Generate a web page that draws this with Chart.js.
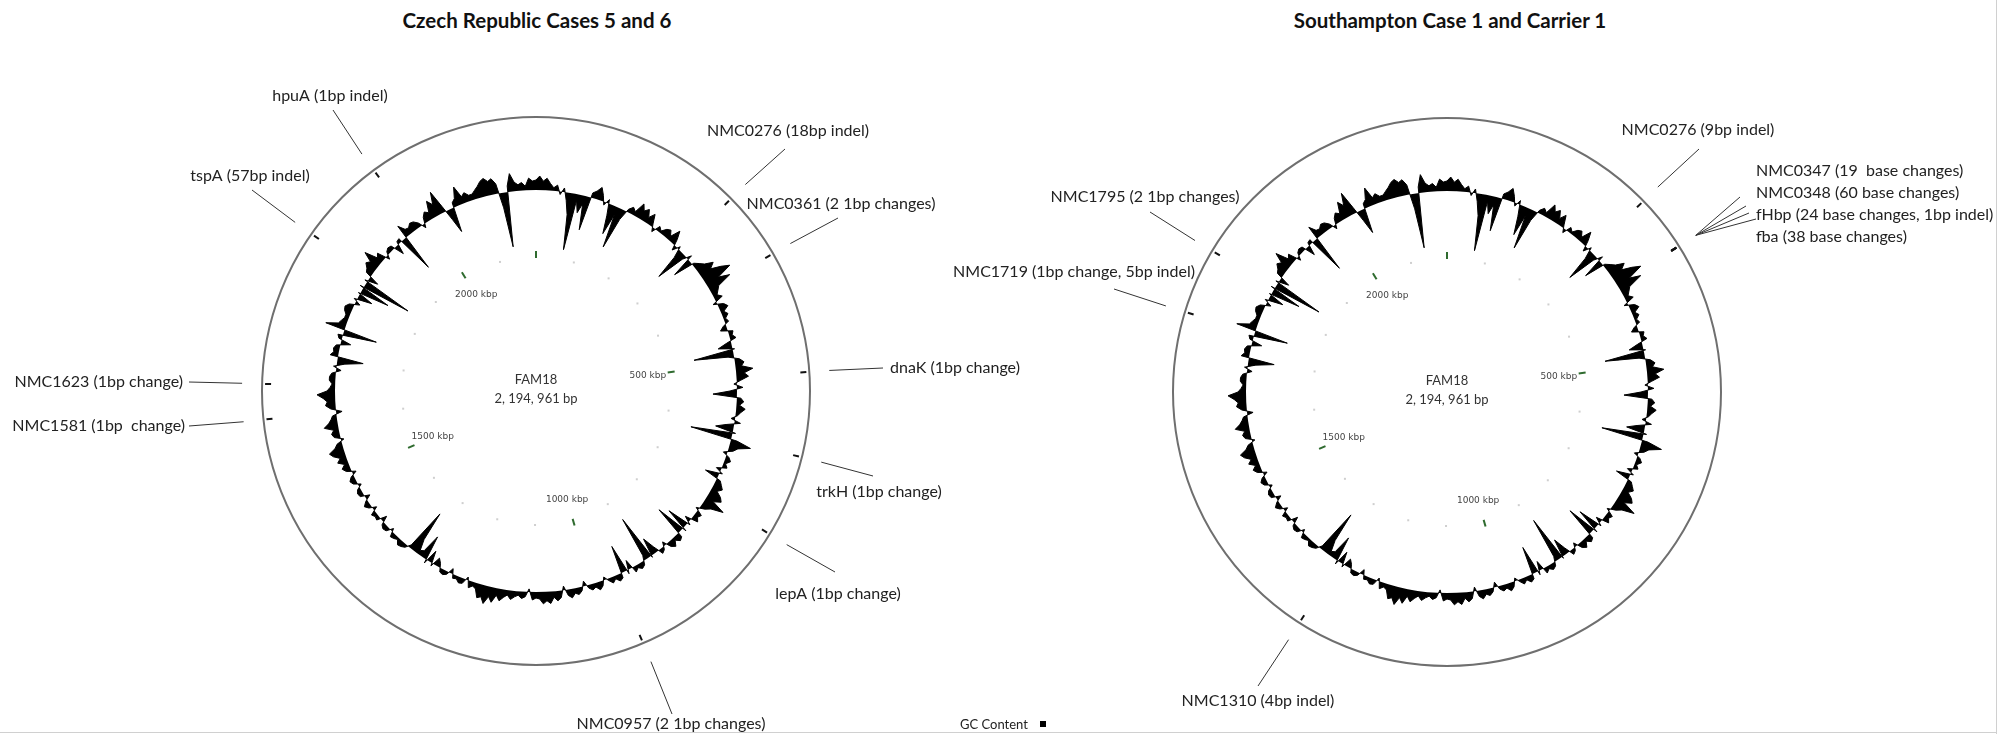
<!DOCTYPE html>
<html>
<head>
<meta charset="utf-8">
<title>FAM18 genome comparison</title>
<script src="https://cdn.jsdelivr.net/npm/chart.js@4.4.1/dist/chart.umd.min.js"></script>
<style>
  html, body { margin: 0; padding: 0; background: #fff; }
  body { width: 2015px; height: 734px; position: relative; overflow: hidden; font-family: Lato, "Open Sans", sans-serif; }
  canvas { position: absolute; left: 0; top: 0; }
  .title { position: absolute; top: 8px; font-weight: bold; font-size: 20.5px; color: #111; transform: translateX(-50%); white-space: nowrap; }
  .legend { position: absolute; left: 960px; top: 716px; font-size: 13px; color: #222; white-space: nowrap; }
  .legend span { display: inline-block; width: 6px; height: 6px; background: #000; margin-left: 12px; vertical-align: 2px; }
  .rule-h { position: absolute; left: 0; top: 732px; width: 1996px; height: 1px; background: #d0d0d0; }
  .rule-v { position: absolute; left: 1996px; top: 0; width: 1px; height: 734px; background: #d0d0d0; }
</style>
</head>
<body>
<div class="title" style="left:537px">Czech Republic Cases 5 and 6</div>
<div class="title" style="left:1450px">Southampton Case 1 and Carrier 1</div>
<canvas id="czechChart" width="2015" height="734"></canvas>
<canvas id="sotonChart" width="2015" height="734"></canvas>
<div class="legend">GC Content<span></span></div>
<div class="rule-h"></div>
<div class="rule-v"></div>

<script>
// FAM18 reference genome, 2 194 961 bp, GC content in 360 windows (clockwise from 0)
const genomeKbp = 2194.961;

// deviation from mean GC per window (+ drawn outward, - inward)
const gcDeviation = [
   10,  14,   9,  12,   7,   3,   6,  -3,   4,  -8,
  -22, -57,  -6, -18,  -8, -34,   5,   8,  13,   6,
   -3,   4, -12, -30,  -8, -42, -10,   3,   7,   4,
   15,   9,  13,   6,  12,   3,  -4,   5,   2,   7,
    9,   4,  14,   6,  -5,   3,  -9, -33,  -4,   5,
  -20,   2,   6,  10,  18,  12,  22,  30,  14,  25,
   10,   7,   4,   8,  -4,   6,   9,   3,   6,   2,
    4,  -3,  -7,   5,   3,   6,  -5, -14,   2, -40,
   -6,   5,   9,   6,  17,   8,  12,   4,  -3,   6,
   -7, -24,   4,   7,   3,   9,   5,   2,  -4,   6,
   -8, -18,   3, -42,   6,  21,   9,   5,  -4,   3,
    6,   2,   5,  -5,   3, -14,   4,   7,  10,   6,
   12,  15,   8,  22,  10,   5,  -3,   6,   4,   7,
   -6,   3, -22,   4, -30,   5,   7,   3,   8,   5,
   -4,   3,   5,  -6, -18,   2, -46,  -5,   4,   6,
    3,   6,  -9,   4, -28,   5,   7,   3,   6,   2,
   -3,   5,   8,   4,   6,   3,  -5,   4,   7,   5,
    9,   6,  -4,   7,  10,   6,  12,   9,  12,   7,
    6,   8,  -3,   5,   7,   4,   6,   9,   5,   8,
   12,   7,  15,  10,  18,  12,  14,   6,   4,   7,
   -3,   5,   6,   3,   4,  -5,   3,   5,   4,  -4,
   -8,   3, -12,   4, -25,  -6,  -4, -15, -45,  -3,
    3,   5,   6,   2,   4,   5,  -3,   4,   5,   3,
   -6,   4,   3,   5,  -4,   3,   6,   2,  -5,   4,
    5,   3,  -3,   4,   6,   3,  -4,   5,   8,   4,
   10,   6,  12,  15,   8,   5,  -3,   6,   8,   5,
   14,   9,   6,   4,  -6,   5,  10,   8,  12,  18,
    8,   5,   3,   6,   6,   4,  -5,   3,  -8, -26,
    8,   5,   6,   4, -10,   3,   5, -34,  20,   8,
    6,   4,   4,   7,   8,   5,  -5,   3, -15,   2,
  -30,   4, -50,   3, -10,   6,   8,  12,   9,  19,
    6,   9,  -4,   3,   5,   4, -10,   3,   4, -37,
   14,   7,   6,   9,   8,   4,  -4,   6,  10,   7,
   18,  12,  24,   6, -10, -25,   5,   8,  19,   7,
   10,   6,   6,   9,  12,  16,  18,  14,  16,  10,
  -15, -55,   6,  18,   9,   6,   8,   4,  12,   9
];
const windowLabels = gcDeviation.map((_, i) => Math.round(i * genomeKbp / gcDeviation.length) + ' kbp');

// ruler on the inner circle
const majorTickKbp = [0, 500, 1000, 1500, 2000];
const majorTickLabels = ['', '500 kbp', '1000 kbp', '1500 kbp', '2000 kbp'];
const minorTickKbp = [100, 200, 300, 400, 600, 700, 800, 900, 1100, 1200, 1300, 1400, 1600, 1700, 1800, 1900, 2100];

// Czech Republic cases 5 and 6
const czechGenes = ['hpuA (1bp indel)', 'tspA (57bp indel)', 'NMC0276 (18bp indel)', 'NMC0361 (2 1bp changes)',
  'dnaK (1bp change)', 'trkH (1bp change)', 'lepA (1bp change)', 'NMC0957 (2 1bp changes)',
  'NMC1623 (1bp change)', 'NMC1581 (1bp  change)'];
const czechKbp = [1973.6, 1859.6, 276.8, 365.2, 524.3, 634.1, 740.8, 957.2, 1655.4, 1609.6];

// Southampton case 1 and carrier 1
const sotonGenes = ['NMC0276 (9bp indel)', 'NMC0347 (19  base changes)', 'NMC0348 (60 base changes)',
  'fHbp (24 base changes, 1bp indel)', 'fba (38 base changes)', 'NMC1795 (2 1bp changes)',
  'NMC1719 (1bp change, 5bp indel)', 'NMC1310 (4bp indel)'];
const sotonKbp = [279.3, 352.4, 352.4, 352.4, 352.4, 1835.3, 1750.0, 1296.3];

// ---- layout (pixels) ----
const RING_MAX = 274;      // outer circle radius
const GC_BASE = 201;       // GC plot baseline radius
const LEADER_START = 294;

// label placement: line end and text anchor relative to the circle centre
const czechLayout = [
  { end: [-203, -281], text: [-206, -295], align: 'center' },
  { end: [-284, -201], text: [-286, -215], align: 'center' },
  { end: [249, -242], text: [252, -260], align: 'center' },
  { end: [302, -173], text: [305, -187], align: 'center' },
  { end: [347, -23], text: [354, -23], align: 'left' },
  { end: [337, 85], text: [343, 101], align: 'center' },
  { end: [299, 181], text: [302, 203], align: 'center' },
  { end: [136, 323], text: [135, 333], align: 'center' },
  { end: [-347, -9], text: [-353, -9], align: 'right' },
  { end: [-347, 35], text: [-351, 35], align: 'right' }
];
const sotonLayout = [
  { end: [252, -243], text: [251, -262], align: 'center' },
  { end: [293, -195], text: [309, -221], align: 'left' },
  { end: [299, -186], text: [309, -199], align: 'left' },
  { end: [302, -179], text: [309, -177], align: 'left' },
  { end: [309, -173], text: [309, -155], align: 'left' },
  { end: [-297, -180], text: [-302, -195], align: 'center' },
  { end: [-333, -103], text: [-373, -120], align: 'center' },
  { end: [-189, 294], text: [-189, 309], align: 'center' }
];

function genomePlugin(genes, kbps, layout) {
  return {
    id: 'genomeAnnotations',
    afterDatasetsDraw(chart) {
      const ctx = chart.ctx;
      const r = chart.scales.r;
      const n = chart.data.labels.length;
      const pos = (kbp, v) => r.getPointPosition(kbp / genomeKbp * n, r.getDistanceFromCenterForValue(v));
      const cx = r.xCenter, cy = r.yCenter;
      ctx.save();

      // minor ruler dots
      ctx.fillStyle = '#cfcfcf';
      minorTickKbp.forEach(k => {
        const p = pos(k, 134);
        ctx.fillRect(p.x - 1, p.y - 1, 2, 2);
      });
      // major ruler ticks + labels
      ctx.strokeStyle = '#2f6b2f';
      ctx.lineWidth = 2;
      ctx.font = '9px "DejaVu Sans", sans-serif';
      ctx.fillStyle = '#444';
      ctx.textAlign = 'center';
      ctx.textBaseline = 'middle';
      majorTickKbp.forEach((k, i) => {
        const a = pos(k, 133), b = pos(k, 140);
        ctx.beginPath(); ctx.moveTo(a.x, a.y); ctx.lineTo(b.x, b.y); ctx.stroke();
        if (majorTickLabels[i]) {
          const t = pos(k, 113);
          ctx.fillText(majorTickLabels[i], t.x, t.y);
        }
      });

      // centre text
      ctx.fillStyle = '#333';
      ctx.font = '13px Lato, sans-serif';
      ctx.fillText('FAM18', cx, cy - 11);
      ctx.fillText('2, 194, 961 bp', cx, cy + 8);

      // change markers just inside the outer circle
      ctx.strokeStyle = '#111';
      ctx.lineWidth = 2;
      kbps.forEach(k => {
        const a = pos(k, 265), b = pos(k, 271);
        ctx.beginPath(); ctx.moveTo(a.x, a.y); ctx.lineTo(b.x, b.y); ctx.stroke();
      });

      // leader lines and labels
      ctx.strokeStyle = '#333';
      ctx.lineWidth = 1;
      ctx.font = '16px Lato, sans-serif';
      ctx.fillStyle = '#222';
      genes.forEach((g, i) => {
        const L = layout[i];
        const s = pos(kbps[i], LEADER_START);
        ctx.beginPath();
        ctx.moveTo(s.x, s.y);
        ctx.lineTo(cx + L.end[0], cy + L.end[1]);
        ctx.stroke();
        ctx.textAlign = L.align;
        ctx.fillText(g, cx + L.text[0], cy + L.text[1]);
      });
      ctx.restore();
    }
  };
}

function makeGenomeChart(id, centre, genes, kbps, layout) {
  const canvas = document.getElementById(id);
  const W = canvas.width, H = canvas.height;
  return new Chart(canvas.getContext('2d'), {
    type: 'radar',
    data: {
      labels: windowLabels,
      datasets: [{
        label: 'GC Content',
        data: gcDeviation.map(d => GC_BASE + d),
        borderColor: '#000',
        backgroundColor: '#000',
        borderWidth: 1,
        pointRadius: 0,
        fill: { value: GC_BASE }
      }]
    },
    options: {
      responsive: false,
      animation: false,
      layout: {
        padding: {
          left: centre[0] - RING_MAX,
          right: W - centre[0] - RING_MAX,
          top: centre[1] - RING_MAX,
          bottom: H - centre[1] - RING_MAX
        }
      },
      elements: { line: { tension: 0 } },
      plugins: { legend: { display: false }, tooltip: { enabled: false } },
      scales: {
        r: {
          min: 0,
          max: RING_MAX,
          afterBuildTicks: s => { s.ticks = [{ value: 0 }, { value: RING_MAX }]; },
          ticks: { display: false },
          grid: { circular: true, color: '#6f6f6f', lineWidth: 2 },
          angleLines: { display: false },
          pointLabels: { display: false }
        }
      }
    },
    plugins: [genomePlugin(genes, kbps, layout)]
  });
}

makeGenomeChart('czechChart', [536, 391], czechGenes, czechKbp, czechLayout);
makeGenomeChart('sotonChart', [1447, 392], sotonGenes, sotonKbp, sotonLayout);
</script>
</body>
</html>
